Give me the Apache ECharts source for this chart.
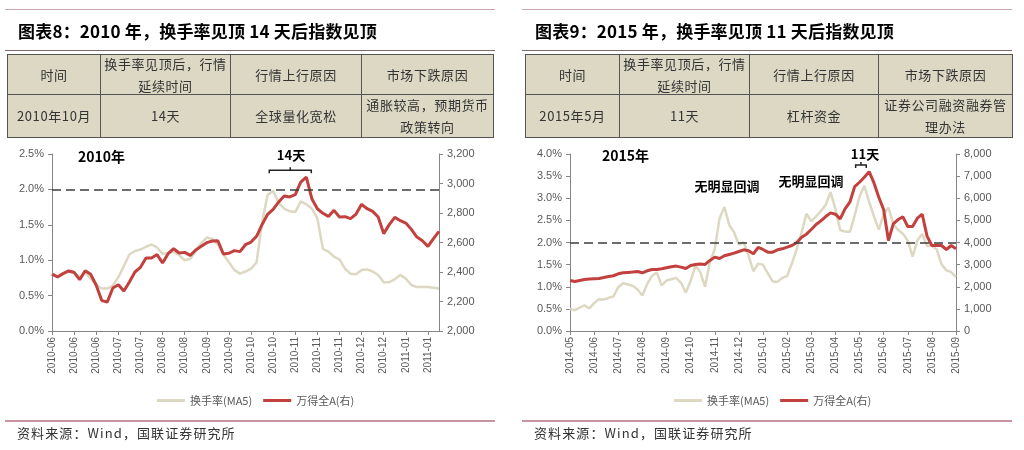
<!DOCTYPE html>
<html><head><meta charset="utf-8">
<script src="https://cdn.jsdelivr.net/npm/echarts@6/dist/echarts.min.js"></script>
<style>
body{margin:0;width:1024px;height:450px;background:#fff;position:relative;overflow:hidden;font-family:"Noto Sans CJK SC","Liberation Sans",sans-serif;}
#chart{position:absolute;left:0;top:0;width:1024px;height:450px;z-index:0;}
.hl{position:absolute;z-index:1;}
.title{position:absolute;z-index:1;font-size:17px;font-weight:700;letter-spacing:0.2px;color:#000;white-space:nowrap;line-height:20px;}
table{position:absolute;z-index:1;border-collapse:collapse;background:#DCD8C4;table-layout:fixed;}
td{border:1px solid #555;text-align:center;font-size:13px;color:#333;padding:0;letter-spacing:0.6px;}
td .c{display:flex;flex-direction:column;justify-content:center;align-items:center;line-height:22px;white-space:nowrap;}
.src{position:absolute;z-index:1;font-size:13px;color:#333;letter-spacing:1.1px;white-space:nowrap;line-height:16px;}
</style></head>
<body>
<div id="chart"></div>

<div class="hl" style="left:5px;top:9px;width:490px;height:1px;background:#CBA5AE;"></div>
<div class="title" style="left:18px;top:21px;">图表8：2010 年，换手率见顶 14 天后指数见顶</div>
<div class="hl" style="left:5px;top:50px;width:490px;height:1px;background:#7B6B6E;"></div>
<table style="left:7px;top:54px;width:486px;">
<colgroup><col style="width:93px"><col style="width:130px"><col style="width:131px"><col style="width:132px"></colgroup>
<tr><td><div class="c" style="height:39px">时间</div></td><td><div class="c" style="height:39px">换手率见顶后，行情<br>延续时间</div></td><td><div class="c" style="height:39px">行情上行原因</div></td><td><div class="c" style="height:39px">市场下跌原因</div></td></tr>
<tr><td><div class="c" style="height:42px">2010年10月</div></td><td><div class="c" style="height:42px">14天</div></td><td><div class="c" style="height:42px">全球量化宽松</div></td><td><div class="c" style="height:42px">通胀较高，预期货币<br>政策转向</div></td></tr>
</table>
<div class="hl" style="left:5px;top:420px;width:490px;height:2px;background:#C8949F;"></div>
<div class="src" style="left:17px;top:425px;">资料来源：Wind，国联证券研究所</div>

<div class="hl" style="left:522px;top:9px;width:490px;height:1px;background:#CBA5AE;"></div>
<div class="title" style="left:535px;top:21px;">图表9：2015 年，换手率见顶 11 天后指数见顶</div>
<div class="hl" style="left:522px;top:50px;width:490px;height:1px;background:#7B6B6E;"></div>
<table style="left:525px;top:54px;width:487px;">
<colgroup><col style="width:94px"><col style="width:130px"><col style="width:129px"><col style="width:134px"></colgroup>
<tr><td><div class="c" style="height:39px">时间</div></td><td><div class="c" style="height:39px">换手率见顶后，行情<br>延续时间</div></td><td><div class="c" style="height:39px">行情上行原因</div></td><td><div class="c" style="height:39px">市场下跌原因</div></td></tr>
<tr><td><div class="c" style="height:42px">2015年5月</div></td><td><div class="c" style="height:42px">11天</div></td><td><div class="c" style="height:42px">杠杆资金</div></td><td><div class="c" style="height:42px">证券公司融资融券管<br>理办法</div></td></tr>
</table>
<div class="hl" style="left:522px;top:420px;width:490px;height:2px;background:#C8949F;"></div>
<div class="src" style="left:534px;top:425px;">资料来源：Wind，国联证券研究所</div>

<script>
// ---------- DATA ----------
const labels2010 = ['2010-06','2010-06','2010-06','2010-07','2010-07','2010-08','2010-08','2010-09','2010-09','2010-10','2010-10','2010-11','2010-11','2010-11','2010-12','2010-12','2011-01','2011-01'];
const labels2015 = ['2014-05','2014-06','2014-07','2014-08','2014-09','2014-10','2014-11','2014-12','2015-01','2015-02','2015-03','2015-04','2015-05','2015-06','2015-07','2015-08','2015-09'];

// 换手率(MA5), %
const turnover2010 = [0.81,0.77,0.81,0.84,0.82,0.76,0.83,0.74,0.65,0.60,0.60,0.64,0.76,0.92,1.08,1.13,1.15,1.19,1.22,1.18,1.09,1.10,1.12,1.07,1.00,1.02,1.13,1.24,1.32,1.30,1.22,1.08,0.97,0.86,0.81,0.84,0.88,0.97,1.54,1.92,1.98,1.81,1.73,1.69,1.68,1.83,1.79,1.73,1.59,1.16,1.12,1.05,1.01,0.88,0.81,0.80,0.86,0.87,0.84,0.79,0.69,0.69,0.73,0.79,0.74,0.65,0.62,0.62,0.62,0.61,0.60];
// 万得全A
const index2010 = [2386,2366,2389,2407,2398,2348,2409,2384,2310,2206,2197,2292,2314,2271,2332,2400,2432,2495,2495,2518,2461,2524,2558,2529,2533,2513,2549,2574,2599,2610,2612,2522,2527,2545,2538,2585,2603,2642,2721,2791,2825,2875,2915,2909,2924,3010,3044,2897,2829,2798,2777,2818,2773,2775,2762,2793,2859,2829,2811,2773,2660,2721,2771,2748,2732,2689,2637,2612,2574,2626,2676];

const turnover2015 = [0.50,0.47,0.53,0.58,0.51,0.63,0.72,0.71,0.75,0.78,0.99,1.08,1.05,1.02,0.94,0.80,1.06,1.25,1.32,1.03,1.14,1.17,1.20,1.09,0.87,1.13,1.48,1.33,1.00,1.56,1.85,2.55,2.80,2.40,2.23,1.95,2.01,1.71,1.35,1.52,1.50,1.30,1.12,1.11,1.20,1.24,1.53,1.85,2.23,2.65,2.48,2.59,2.71,2.85,3.14,2.76,2.28,2.25,2.24,2.61,3.04,3.28,2.92,2.59,2.29,2.64,2.79,2.42,2.28,2.20,2.04,1.68,2.05,2.19,1.92,1.93,1.84,1.51,1.37,1.33,1.22];
const index2015 = [2286,2241,2286,2331,2346,2361,2376,2421,2467,2497,2587,2632,2647,2662,2692,2632,2722,2782,2782,2812,2858,2903,2933,2888,2828,2963,3008,3023,3008,3188,3339,3279,3399,3459,3519,3595,3670,3625,3489,3775,3685,3564,3564,3670,3715,3790,3865,4001,4241,4377,4587,4813,4978,5174,5339,5279,5068,5520,5820,6527,6723,6948,7204,6693,6046,5490,4091,4843,5038,5159,4723,4723,5099,5279,4286,3865,3865,3865,3685,3865,3715];

// annotation brackets: [from, to, level(right axis)]
const bracket2010 = [39.3, 46.9, 3090];
const bracket2015 = [59.2, 61.4, 7500];
const threshold = 2.0; // % line

// ---------- CHART ----------
const STEP2010 = 4, STEP2015 = 5;
const tick2010 = labels2010.map((_, k) => k * STEP2010);
const tick2015 = labels2015.map((_, k) => k * STEP2015);
const pairs = arr => arr.map((v, i) => [i, v]);

const BEIGE = '#DCD8C2', RED = '#C2403D', AX = '#868686', LBL = '#595959';
const FONT = 'Liberation Sans';

function xAxis(grid, n, ticks, labels, step) {
  return {
    type: 'value', gridIndex: grid, min: 0, max: n - 1,
    splitLine: {show: false},
    axisLine: {lineStyle: {color: AX}},
    axisTick: {customValues: ticks, length: 4, lineStyle: {color: AX}},
    axisLabel: {customValues: ticks, rotate: 90, margin: 6, fontSize: 10, color: LBL, fontFamily: FONT,
      formatter: v => labels[Math.round(v / step)] || ''}
  };
}
function yAxis(grid, pos, min, max, interval, fmt) {
  return {
    type: 'value', gridIndex: grid, position: pos, min, max, interval,
    splitLine: {show: false},
    axisLine: {show: true, lineStyle: {color: AX}},
    axisTick: {show: true, length: 4, lineStyle: {color: AX}},
    axisLabel: {margin: 8, fontSize: 11, color: LBL, fontFamily: FONT, formatter: fmt}
  };
}
const pct = v => v.toFixed(1) + '%';
const thou = v => v.toLocaleString('en-US');

function bracketSeries(xi, yi, b) {
  return {
    type: 'custom', xAxisIndex: xi, yAxisIndex: yi, silent: true, clip: false, z: 10,
    data: [b],
    renderItem: (params, api) => {
      const p0 = api.coord([api.value(0), api.value(2)]);
      const p1 = api.coord([api.value(1), api.value(2)]);
      const mx = (p0[0] + p1[0]) / 2;
      return {type: 'group', children: [
        {type: 'polyline', shape: {points: [[p0[0], p0[1] + 3], [p0[0], p0[1]], [p1[0], p1[1]], [p1[0], p1[1] + 3]]},
          style: {stroke: '#222', lineWidth: 1.5, fill: null}},
        {type: 'line', shape: {x1: mx, y1: p0[1], x2: mx, y2: p0[1] - 3}, style: {stroke: '#222', lineWidth: 1.5}}
      ]};
    }
  };
}
const dash = {
  silent: true, symbol: 'none', label: {show: false},
  lineStyle: {color: '#3C3C3C', type: [9, 5], width: 1.5},
  data: [{yAxis: threshold}]
};

const chart = echarts.init(document.getElementById('chart'), null, {renderer: 'canvas'});
chart.setOption({
  animation: false,
  backgroundColor: 'transparent',
  grid: [
    {left: 52, top: 154, width: 387, height: 177},
    {left: 570, top: 154, width: 386, height: 177}
  ],
  xAxis: [
    xAxis(0, index2010.length, tick2010, labels2010, STEP2010),
    xAxis(1, index2015.length, tick2015, labels2015, STEP2015)
  ],
  yAxis: [
    yAxis(0, 'left', 0, 2.5, 0.5, pct),
    yAxis(0, 'right', 2000, 3200, 200, thou),
    yAxis(1, 'left', 0, 4, 0.5, pct),
    yAxis(1, 'right', 0, 8000, 1000, thou)
  ],
  legend: [
    {left: 152, top: 390, icon: 'rect', itemWidth: 28, itemHeight: 3, itemGap: 11,
      textStyle: {fontSize: 11, color: LBL, fontFamily: 'Noto Sans CJK SC'}, data: ['换手率(MA5)', '万得全A(右)']},
    {left: 669, top: 390, icon: 'rect', itemWidth: 28, itemHeight: 3, itemGap: 11,
      textStyle: {fontSize: 11, color: LBL, fontFamily: 'Noto Sans CJK SC'}, data: ['换手率(MA5)', '万得全A(右)']}
  ],
  graphic: [
    {type: 'text', x: 78, y: 157, style: {text: '2010年', font: 'bold 14px "Noto Sans CJK SC"', fill: '#000', verticalAlign: 'middle'}},
    {type: 'text', x: 291, y: 155, style: {text: '14天', font: 'bold 13px "Noto Sans CJK SC"', fill: '#000', align: 'center', verticalAlign: 'middle'}},
    {type: 'text', x: 602, y: 156, style: {text: '2015年', font: 'bold 14px "Noto Sans CJK SC"', fill: '#000', verticalAlign: 'middle'}},
    {type: 'text', x: 727, y: 186, style: {text: '无明显回调', font: 'bold 13px "Noto Sans CJK SC"', fill: '#000', align: 'center', verticalAlign: 'middle'}},
    {type: 'text', x: 811, y: 181, style: {text: '无明显回调', font: 'bold 13px "Noto Sans CJK SC"', fill: '#000', align: 'center', verticalAlign: 'middle'}},
    {type: 'text', x: 865, y: 154, style: {text: '11天', font: 'bold 13px "Noto Sans CJK SC"', fill: '#000', align: 'center', verticalAlign: 'middle'}}
  ],
  series: [
    {name: '换手率(MA5)', type: 'line', xAxisIndex: 0, yAxisIndex: 0, data: pairs(turnover2010), showSymbol: false,
      lineStyle: {color: BEIGE, width: 2.5}, itemStyle: {color: BEIGE}, z: 2, markLine: dash},
    {name: '万得全A(右)', type: 'line', xAxisIndex: 0, yAxisIndex: 1, data: pairs(index2010), showSymbol: false,
      lineStyle: {color: RED, width: 3}, itemStyle: {color: RED}, z: 3},
    {name: '换手率(MA5)', type: 'line', xAxisIndex: 1, yAxisIndex: 2, data: pairs(turnover2015), showSymbol: false,
      lineStyle: {color: BEIGE, width: 2.5}, itemStyle: {color: BEIGE}, z: 2, markLine: dash},
    {name: '万得全A(右)', type: 'line', xAxisIndex: 1, yAxisIndex: 3, data: pairs(index2015), showSymbol: false,
      lineStyle: {color: RED, width: 3}, itemStyle: {color: RED}, z: 3},
    bracketSeries(0, 1, bracket2010),
    bracketSeries(1, 3, bracket2015)
  ]
});
</script>
</body></html>
